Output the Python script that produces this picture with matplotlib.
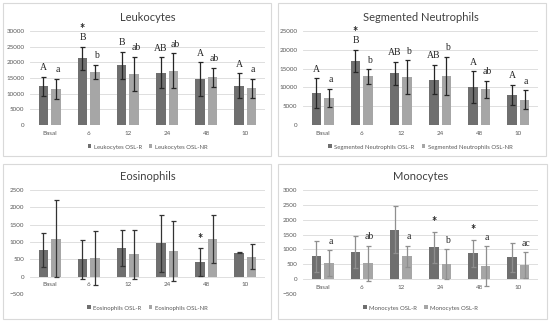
import matplotlib.pyplot as plt
from matplotlib.patches import Rectangle

plt.rcParams['font.family'] = ['Lato', 'DejaVu Sans']

W, H = 550, 325

categories = ['Basal', '6', '12', '24', '48', '10']

leuk_r = [12300, 21300, 19100, 16600, 14600, 12600]
leuk_r_sd = [3150, 3700, 4350, 4950, 5400, 3900]
leuk_nr = [11600, 16900, 16400, 17300, 15300, 11700]
leuk_nr_sd = [3200, 2300, 5450, 5600, 3050, 3000]
leuk_let_r = ['A', 'B', 'B', 'AB', 'A', 'A']
leuk_let_nr = ['a', 'b', 'ab', 'ab', 'ab', 'a']
leuk_star = [False, True, False, False, False, False]

neut_r = [8500, 17000, 13700, 12100, 10000, 8000]
neut_r_sd = [3900, 3000, 3100, 3900, 4250, 2750]
neut_nr = [7200, 12900, 12800, 13100, 9500, 6700]
neut_nr_sd = [2450, 1950, 4450, 5000, 2250, 2500]
neut_let_r = ['A', 'B', 'AB', 'AB', 'A', 'A']
neut_let_nr = ['a', 'b', 'b', 'b', 'ab', 'a']
neut_star = [False, True, False, False, False, False]

eos_r = [780, 500, 840, 960, 420, 690]
eos_r_sd = [490, 570, 520, 830, 400, 10]
eos_nr = [1100, 540, 640, 740, 1090, 580]
eos_nr_sd = [1110, 790, 700, 860, 700, 350]
eos_star = [False, False, False, False, True, False]

mono_r = [770, 920, 1670, 1080, 870, 730]
mono_r_sd = [530, 530, 780, 520, 450, 490]
mono_nr = [530, 530, 770, 510, 440, 470]
mono_nr_sd = [440, 600, 350, 490, 660, 430]
mono_let_nr = ['a', 'ab', 'a', 'b', 'a', 'ac']
mono_star = [False, False, False, True, True, False]

DARK = '#6f6f6f'
LIGHT = '#a6a6a6'
TXT = '#595959'
GRID = '#d9d9d9'


def px_rect(x0, y0, x1, y1):
    return [x0 / W, 1 - y1 / H, (x1 - x0) / W, (y1 - y0) / H]


def panel(fig, box, axbox, title, r, r_sd, nr, nr_sd, ylim, ystep, legend_labels,
          err_color, let_r=None, let_nr=None, stars=None, legend_y=None):
    fig.patches.append(Rectangle((box[0] / W, 1 - box[3] / H), (box[2] - box[0]) / W,
                                 (box[3] - box[1]) / H, transform=fig.transFigure,
                                 fill=False, edgecolor=GRID, linewidth=0.8))
    ax = fig.add_axes(px_rect(*axbox))
    x = list(range(len(categories)))
    xr = [i - 0.16 for i in x]
    xn = [i + 0.16 for i in x]
    ek = dict(ecolor=err_color, elinewidth=0.9, capsize=1.8, capthick=0.9)
    ax.bar(xr, r, width=0.24, color=DARK, yerr=r_sd, error_kw=ek, label=legend_labels[0], zorder=2)
    ax.bar(xn, nr, width=0.24, color=LIGHT, yerr=nr_sd, error_kw=ek, label=legend_labels[1], zorder=2)
    ax.set_xlim(-0.5, len(categories) - 0.5)
    ax.set_ylim(*ylim)
    ax.set_yticks(range(ylim[0], ylim[1] + 1, ystep))
    ax.yaxis.grid(True, color=GRID, linewidth=0.6, zorder=0)
    ax.set_axisbelow(True)
    for s in ax.spines.values():
        s.set_visible(False)
    ax.tick_params(axis='y', length=0, labelsize=4.5, labelcolor=TXT, pad=4)
    ax.set_xticks([])
    for i, c in enumerate(categories):
        ax.annotate(c, (i, 0), xytext=(0, -6), textcoords='offset points',
                    ha='center', va='center', fontsize=4.5, color=TXT)
    ax.set_title(title, fontsize=8, color='#404040', pad=7)
    for i in x:
        top_r = r[i] + r_sd[i]
        top_n = nr[i] + nr_sd[i]
        if let_r:
            ax.annotate(let_r[i], (xr[i], top_r), xytext=(0, 6.5), textcoords='offset points',
                        ha='center', va='center', fontsize=7, family='Liberation Serif',
                        color='#262626', annotation_clip=False)
        if let_nr:
            ax.annotate(let_nr[i], (xn[i] + 0.04, top_n), xytext=(0, 6.5), textcoords='offset points',
                        ha='center', va='center', fontsize=7, family='Liberation Serif',
                        color='#262626', annotation_clip=False)
        if stars and stars[i]:
            off = 13 if let_r else 7
            ax.annotate('*', (xr[i], top_r), xytext=(0, off), textcoords='offset points',
                        ha='center', va='center', fontsize=9, fontweight='bold',
                        color='#262626', annotation_clip=False)
    h, l = ax.get_legend_handles_labels()
    cx = (axbox[0] + axbox[2]) / 2 / W
    fig.legend(h, l, loc='center', bbox_to_anchor=(cx, 1 - legend_y / H), ncol=2,
               frameon=False, fontsize=4.3, labelcolor=TXT, handlelength=0.6,
               handleheight=0.6, handletextpad=0.4, columnspacing=1.2)
    return ax


fig = plt.figure(figsize=(W / 100, H / 100), dpi=100)

panel(fig, (3, 3, 271, 156), (30, 31, 265, 125), 'Leukocytes',
      leuk_r, leuk_r_sd, leuk_nr, leuk_nr_sd, (0, 30000), 5000,
      ['Leukocytes OSL-R', 'Leukocytes OSL-NR'], '#262626',
      leuk_let_r, leuk_let_nr, leuk_star, legend_y=147)

panel(fig, (278, 3, 546, 156), (303, 31, 538, 125), 'Segmented Neutrophils',
      neut_r, neut_r_sd, neut_nr, neut_nr_sd, (0, 25000), 5000,
      ['Segmented Neutrophils OSL-R', 'Segmented Neutrophils OSL-NR'], '#262626',
      neut_let_r, neut_let_nr, neut_star, legend_y=147)

panel(fig, (3, 164, 271, 319), (30, 190, 265, 294), 'Eosinophils',
      eos_r, eos_r_sd, eos_nr, eos_nr_sd, (-500, 2500), 500,
      ['Eosinophils OSL-R', 'Eosinophils OSL-NR'], '#333333',
      None, None, eos_star, legend_y=308)

panel(fig, (278, 164, 547, 319), (303, 190, 538, 294), 'Monocytes',
      mono_r, mono_r_sd, mono_nr, mono_nr_sd, (-500, 3000), 500,
      ['Monocytes OSL-R', 'Monocytes OSL-R'], '#8f8f8f',
      None, mono_let_nr, mono_star, legend_y=308)

fig.savefig('out.png', dpi=100)
